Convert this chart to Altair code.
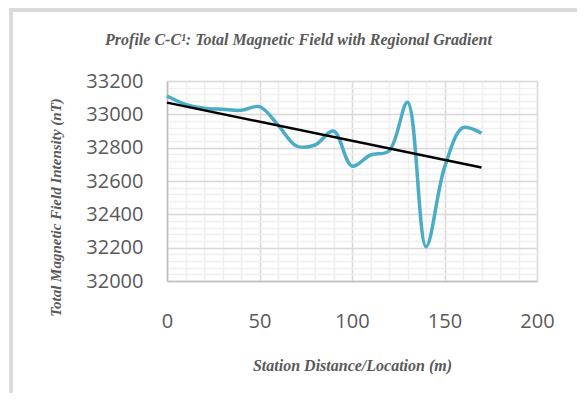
import altair as alt
import pandas as pd

# Data
station = [0, 10, 20, 30, 40, 50, 60, 70, 80, 90, 100, 110, 120, 130, 140, 150, 160, 170]
tmi = [33110, 33060, 33036, 33030, 33024, 33046, 32936, 32810, 32816, 32900,
       32690, 32756, 32780, 33072, 32206, 32680, 32920, 32886]

x_major = [0, 50, 100, 150, 200]
y_major = [32000, 32200, 32400, 32600, 32800, 33000, 33200]
x_minor = list(range(0, 201, 10))
y_minor = list(range(32000, 33201, 40))

chart_title = "Profile C-C\u00b9: Total Magnetic Field with Regional Gradient"

df = pd.DataFrame({"x": station, "y": tmi})

W, H = 370, 200
xs = alt.Scale(domain=[0, 200], nice=False)
ys = alt.Scale(domain=[32000, 33200], nice=False)

label_font = "Open Sans"
title_font = "Liberation Serif"
gray = "#595959"

# minor grid layer (independent axes on top/right, no labels)
minor = alt.Chart(df).mark_point(opacity=0).encode(
    x=alt.X("x:Q", scale=xs, axis=alt.Axis(orient="top", values=x_minor, grid=True,
            gridColor="#efefef", gridWidth=1.5, labels=False, ticks=False, domain=False, title=None)),
    y=alt.Y("y:Q", scale=ys, axis=alt.Axis(orient="right", values=y_minor, grid=True,
            gridColor="#efefef", gridWidth=1.5, labels=False, ticks=False, domain=False, title=None)),
)

frame = alt.Chart(df).mark_rect(fill=None, stroke="#d9d9d9", strokeWidth=2.5, clip=False).encode(
    x=alt.value(-156), x2=alt.value(417), y=alt.value(-71), y2=alt.value(340)
)

title_text = alt.Chart(df).transform_aggregate(n="count()").mark_text(
    font=title_font, fontSize=16, fontStyle="italic", fontWeight="bold", color=gray,
    align="center", baseline="middle", clip=False
).encode(x=alt.value(131.5), y=alt.value(-41), text=alt.value(chart_title))

base = alt.Chart(df).encode(
    x=alt.X("x:Q", scale=xs, axis=alt.Axis(
        orient="bottom", values=x_major, grid=True, gridColor="#d9d9d9", gridWidth=1.5,
        ticks=False, domain=True, domainColor="#bfbfbf", domainWidth=1.5,
        labelFont=label_font, labelFontSize=20, labelColor=gray, labelPadding=30,
        labelFlush=False, format="d",
        title="Station Distance/Location (m)", titleFont=title_font, titleFontSize=16,
        titleFontStyle="italic", titleFontWeight="bold", titleColor=gray,
        titleBaseline="middle", titleY=84, titleX=185)),
    y=alt.Y("y:Q", scale=ys, axis=alt.Axis(
        orient="left", values=y_major, grid=True, gridColor="#d9d9d9", gridWidth=1.5,
        ticks=False, domain=True, domainColor="#bfbfbf", domainWidth=1.5,
        labelFont=label_font, labelFontSize=20, labelColor=gray, labelPadding=24,
        labelFlush=False, format="d",
        title="Total Magnetic Field Intensity (nT)", titleFont=title_font, titleFontSize=15,
        titleFontStyle="italic", titleFontWeight="bold", titleColor=gray,
        titleAngle=270, titleBaseline="middle", titleAlign="center", titleX=-112, titleY=126)),
)

line = base.mark_line(color="#4BACC6", strokeWidth=3.5, interpolate="catmull-rom")
trend = base.transform_regression("x", "y", method="linear").mark_line(color="#000000", strokeWidth=2.5)

chart = alt.layer(
    frame, title_text, minor, alt.layer(line, trend)
).resolve_axis(x="independent", y="independent").properties(
    width=W, height=H,
    autosize=alt.AutoSizeParams(type="none"),
    padding={"left": 159, "top": 73, "right": 40, "bottom": 112},
).configure_view(stroke="#d9d9d9", strokeWidth=1.5).configure(background="white")

chart.save("out.html", embed_options={"renderer": "svg", "actions": False})
